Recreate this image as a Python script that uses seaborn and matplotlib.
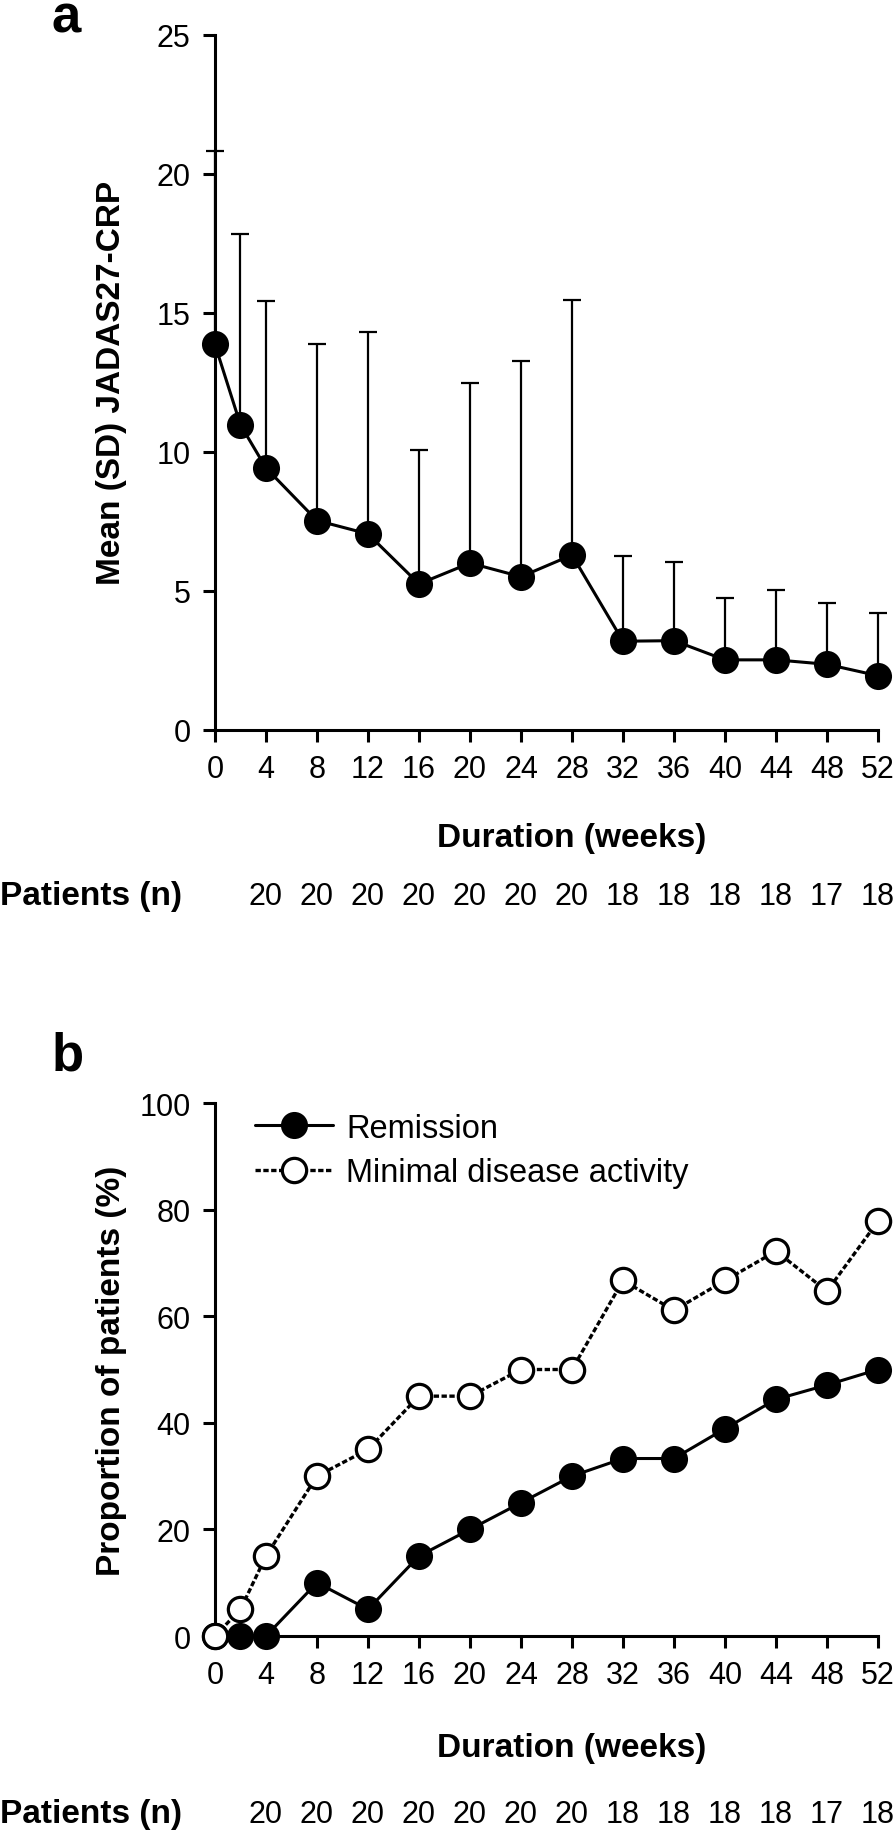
import numpy as np
import pandas as pd
import seaborn as sns
import matplotlib.pyplot as plt
import matplotlib.transforms as mtransforms

# data
weeks = [0, 2, 4, 8, 12, 16, 20, 24, 28, 32, 36, 40, 44, 48, 52]
jadas_mean = [13.86, 10.97, 9.42, 7.53, 7.05, 5.25, 6.00, 5.51, 6.29, 3.19, 3.21, 2.52, 2.52, 2.36, 1.95]
jadas_sd = [6.96, 6.88, 6.02, 6.35, 7.25, 4.80, 6.49, 7.75, 9.17, 3.08, 2.84, 2.24, 2.52, 2.22, 2.27]
remission = [0, 0, 0, 10, 5, 15, 20, 25, 30, 33.3, 33.3, 38.9, 44.4, 47.1, 50]
mda = [0, 5, 15, 30, 35, 45, 45, 50, 50, 66.7, 61.1, 66.7, 72.2, 64.7, 77.8]
tick_weeks = [0, 4, 8, 12, 16, 20, 24, 28, 32, 36, 40, 44, 48, 52]
count_weeks = [4, 8, 12, 16, 20, 24, 28, 32, 36, 40, 44, 48, 52]
patients_n = [20, 20, 20, 20, 20, 20, 20, 18, 18, 18, 18, 17, 18]

sns.set_theme(style="ticks")
plt.rcParams['font.family'] = ['Liberation Sans', 'DejaVu Sans']
plt.rcParams['text.color'] = 'black'
plt.rcParams['axes.labelcolor'] = 'black'

fig = plt.figure(figsize=(8.95, 18.31), dpi=100)
ax1 = fig.add_axes([0.2402, 0.6008, 0.7408, 0.3797])
ax2 = fig.add_axes([0.2402, 0.10595, 0.7408, 0.2911])


def style_axis(ax, ymax, ystep):
    sns.despine(ax=ax)
    ax.set_xlim(0, 52)
    ax.set_ylim(0, ymax)
    ax.set_xticks(tick_weeks)
    ax.set_yticks(np.arange(0, ymax + 1, ystep))
    ax.tick_params(direction='out', length=8.6, width=2.2, labelsize=22,
                   pad=9, color='black', labelcolor='black')
    for s in ['left', 'bottom']:
        ax.spines[s].set_linewidth(2.2)
        ax.spines[s].set_color('black')
    ax.set_xlabel('')


# panel a
eb = ax1.errorbar(weeks, jadas_mean, yerr=[np.zeros(len(weeks)), jadas_sd],
                  fmt='none', ecolor='black', elinewidth=1.6, capsize=6.5,
                  capthick=1.6, zorder=2)
for child in eb.get_children():
    child.set_clip_on(False)

sns.lineplot(x=weeks, y=jadas_mean, ax=ax1, color='black', linewidth=2.2,
             marker='o', markersize=18, markerfacecolor='black',
             markeredgecolor='black', markeredgewidth=1.5, errorbar=None,
             clip_on=False, zorder=3)
style_axis(ax1, 25, 5)
ax1.set_ylabel('Mean (SD) JADAS27-CRP', fontsize=24, fontweight='bold')
ax1.yaxis.set_label_coords(-0.133, 0.5)

# panel b
sns.lineplot(x=weeks, y=remission, ax=ax2, color='black', linewidth=2.2,
             marker='o', markersize=18, markerfacecolor='black',
             markeredgecolor='black', markeredgewidth=1.5, errorbar=None,
             clip_on=False, zorder=3, label='Remission')
sns.lineplot(x=weeks, y=mda, ax=ax2, color='black', linewidth=2.4,
             linestyle=(0, (1.6, 0.75)),
             marker='o', markersize=17.5, markerfacecolor='white',
             markeredgecolor='black', markeredgewidth=2.3, errorbar=None,
             clip_on=False, zorder=4, label='Minimal disease activity')
style_axis(ax2, 100, 20)
ax2.set_ylabel('Proportion of patients (%)', fontsize=24, fontweight='bold')
ax2.yaxis.set_label_coords(-0.133, 0.5)
ax2.legend(loc='upper left', bbox_to_anchor=(0.06, 0.982), frameon=False,
           fontsize=23.5, handlelength=2.4, handletextpad=0.4,
           labelspacing=0.42, borderpad=0, borderaxespad=0)

# panel letters, x titles and patient counts
fig.text(0.057, 0.982, 'a', fontsize=38, fontweight='bold', va='baseline', ha='left')
fig.text(0.058, 0.4156, 'b', fontsize=38, fontweight='bold', va='baseline', ha='left')

for ax, y_dur, y_n in [(ax1, 0.5376, 0.5057), (ax2, 0.0406, 0.0044)]:
    fig.text(0.639, y_dur, 'Duration (weeks)', fontsize=24, fontweight='bold',
             ha='center', va='baseline')
    fig.text(0.0, y_n, 'Patients (n)', fontsize=24, fontweight='bold',
             ha='left', va='baseline')
    trans = mtransforms.blended_transform_factory(ax.transData, fig.transFigure)
    for w, n in zip(count_weeks, patients_n):
        ax.text(w, y_n, str(n), transform=trans, fontsize=22, ha='center',
                va='baseline', clip_on=False)

fig.savefig('out.png', dpi=100)
